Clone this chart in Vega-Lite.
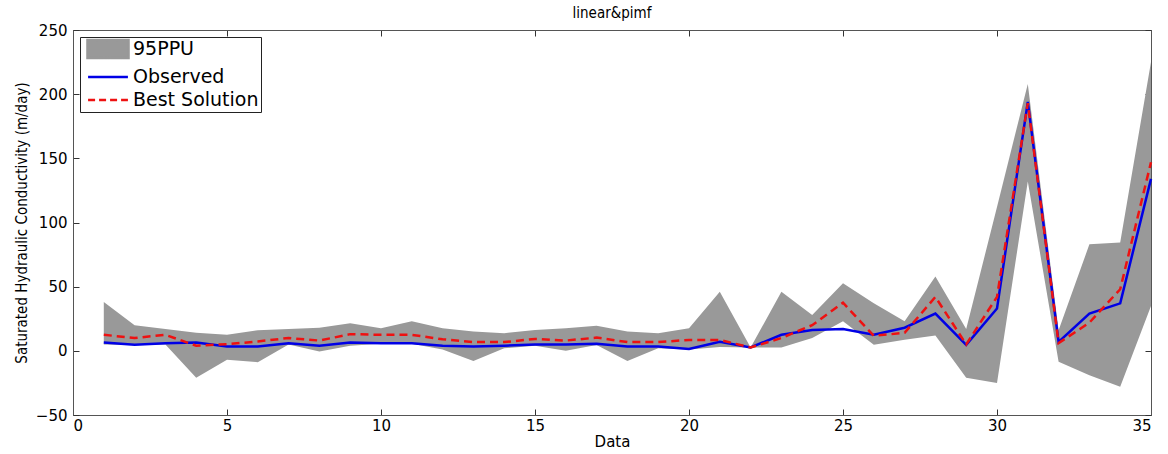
{
  "$schema": "https://vega.github.io/schema/vega-lite/v6.json",
  "width": 1078,
  "height": 385,
  "autosize": {"type": "none"},
  "padding": {"left": 73, "top": 30, "right": 17, "bottom": 39},
  "background": "white",
  "title": {
    "text": "linear&pimf",
    "font": "Liberation Sans Narrow, DejaVu Sans Condensed, sans-serif",
    "fontSize": 15,
    "fontWeight": "normal",
    "color": "black",
    "anchor": "middle",
    "offset": 2
  },
  "data": {
    "values": [
      {"x": 1, "lo": 5, "hi": 38, "obs": 6.5, "best": 12.5},
      {"x": 2, "lo": 4.5, "hi": 20, "obs": 4.7, "best": 10},
      {"x": 3, "lo": 5, "hi": 17, "obs": 6, "best": 12.5},
      {"x": 4, "lo": -21, "hi": 14, "obs": 6.5, "best": 4},
      {"x": 5, "lo": -7, "hi": 12.5, "obs": 3.4, "best": 5.2},
      {"x": 6, "lo": -8.8, "hi": 16, "obs": 3.4, "best": 7.3},
      {"x": 7, "lo": 5, "hi": 17, "obs": 6, "best": 10},
      {"x": 8, "lo": -0.5, "hi": 18, "obs": 4, "best": 8},
      {"x": 9, "lo": 4, "hi": 21.5, "obs": 6.5, "best": 13},
      {"x": 10, "lo": 5.5, "hi": 17.6, "obs": 6, "best": 12.5},
      {"x": 11, "lo": 5.5, "hi": 23, "obs": 6, "best": 12.5},
      {"x": 12, "lo": 1, "hi": 17.6, "obs": 4, "best": 9},
      {"x": 13, "lo": -8, "hi": 15, "obs": 3.4, "best": 6.8},
      {"x": 14, "lo": 2, "hi": 13.7, "obs": 4, "best": 6.8},
      {"x": 15, "lo": 4, "hi": 16.3, "obs": 5, "best": 9.3},
      {"x": 16, "lo": 0, "hi": 17.6, "obs": 5, "best": 8},
      {"x": 17, "lo": 4.5, "hi": 19.5, "obs": 5.5, "best": 10.3},
      {"x": 18, "lo": -8, "hi": 15, "obs": 3.4, "best": 6.8},
      {"x": 19, "lo": 2, "hi": 13.7, "obs": 3.4, "best": 6.8},
      {"x": 20, "lo": 1, "hi": 17.6, "obs": 1.5, "best": 8.5},
      {"x": 21, "lo": 3, "hi": 46, "obs": 7, "best": 8.5},
      {"x": 22, "lo": 2.6, "hi": 2.6, "obs": 2.6, "best": 2.6},
      {"x": 23, "lo": 2.6, "hi": 46, "obs": 12.5, "best": 10},
      {"x": 24, "lo": 10, "hi": 28, "obs": 16.3, "best": 20},
      {"x": 25, "lo": 23, "hi": 52.7, "obs": 17, "best": 37.5},
      {"x": 26, "lo": 4.7, "hi": 37, "obs": 12.5, "best": 11.7},
      {"x": 27, "lo": 8.6, "hi": 23, "obs": 18, "best": 14},
      {"x": 28, "lo": 12, "hi": 58, "obs": 29, "best": 42},
      {"x": 29, "lo": -21, "hi": 17, "obs": 4.7, "best": 5},
      {"x": 30, "lo": -25, "hi": 112, "obs": 33, "best": 42},
      {"x": 31, "lo": 132, "hi": 208, "obs": 194, "best": 193},
      {"x": 32, "lo": -8.5, "hi": 16, "obs": 7, "best": 6},
      {"x": 33, "lo": -19, "hi": 83, "obs": 29, "best": 22},
      {"x": 34, "lo": -28, "hi": 84.5, "obs": 37, "best": 48},
      {"x": 35, "lo": 35, "hi": 225, "obs": 134, "best": 147}
    ]
  },
  "config": {
    "view": {"stroke": "#555555", "strokeWidth": 1},
    "axis": {
      "grid": false,
      "domainColor": "#555555",
      "tickColor": "#333333",
      "tickSize": -6,
      "labelFont": "DejaVu Sans, sans-serif",
      "labelFontSize": 15,
      "labelColor": "black",
      "titleColor": "black",
      "titleFontWeight": "normal"
    }
  },
  "layer": [
    {
      "layer": [
        {
          "mark": {"type": "area", "opacity": 1, "interpolate": "linear"},
          "encoding": {
            "x": {
              "field": "x",
              "type": "quantitative",
              "scale": {"domain": [0, 35], "nice": false, "zero": false},
              "axis": {
                "orient": "bottom",
                "values": [0, 5, 10, 15, 20, 25, 30, 35],
                "labelPadding": 9,
                "title": "Data",
                "titleFont": "DejaVu Sans, sans-serif",
                "titleFontSize": 15,
                "titlePadding": 1
              }
            },
            "y": {
              "field": "lo",
              "type": "quantitative",
              "scale": {"domain": [-50, 250], "nice": false, "zero": false},
              "axis": {
                "orient": "left",
                "values": [-50, 0, 50, 100, 150, 200, 250],
                "labelPadding": 12,
                "title": "Saturated Hydraulic Conductivity (m/day)",
                "titleFont": "Liberation Sans Narrow, DejaVu Sans Condensed, sans-serif",
                "titleFontSize": 15,
                "titlePadding": 6
              }
            },
            "y2": {"field": "hi"},
            "color": {
              "datum": "95PPU",
              "type": "nominal",
              "scale": {
                "domain": ["95PPU", "Observed", "Best Solution"],
                "range": ["#999999", "#0000e6", "#ee1111"]
              },
              "legend": {
                "title": null,
                "orient": "top-left",
                "offset": 7,
                "padding": 2,
                "strokeColor": "#222222",
                "fillColor": "white",
                "labelFont": "DejaVu Sans, sans-serif",
                "labelFontSize": 19,
                "labelColor": "black",
                "labelOffset": 15,
                "rowPadding": 3,
                "symbolSize": 300,
                "symbolOffset": 16,
                "symbolStrokeWidth": 2.5,
                "encoding": {
                  "symbols": {
                    "shape": {"value": {"expr": "datum.value === '95PPU' ? 'M-2.37,-1.04H2.37V1.04H-2.37Z' : 'M-2.3,0H2.3'"}},
                    "fill": {"value": {"expr": "datum.value === '95PPU' ? '#999999' : 'transparent'"}},
                    "stroke": {"value": {"expr": "datum.value === '95PPU' ? '#999999' : (datum.value === 'Observed' ? '#0000e6' : '#ee1111')"}},
                    "strokeDash": {"value": {"expr": "datum.value === 'Best Solution' ? [7, 4] : [1, 0]"}},
                    "strokeWidth": {"value": 2.5},
                    "opacity": {"value": 1}
                  }
                }
              }
            }
          }
        },
        {
          "mark": {"type": "line", "strokeWidth": 2.5},
          "encoding": {
            "x": {"field": "x", "type": "quantitative"},
            "y": {"field": "obs", "type": "quantitative"},
            "color": {"datum": "Observed", "type": "nominal"}
          }
        },
        {
          "mark": {"type": "line", "strokeWidth": 2.5, "strokeDash": [8, 5]},
          "encoding": {
            "x": {"field": "x", "type": "quantitative"},
            "y": {"field": "best", "type": "quantitative"},
            "color": {"datum": "Best Solution", "type": "nominal"}
          }
        }
      ]
    },
    {
      "mark": {"type": "line", "opacity": 0},
      "encoding": {
        "x": {
          "field": "x",
          "type": "quantitative",
          "axis": {"orient": "top", "values": [0, 5, 10, 15, 20, 25, 30, 35], "labels": false, "title": null}
        },
        "y": {
          "field": "obs",
          "type": "quantitative",
          "axis": {"orient": "right", "values": [-50, 0, 50, 100, 150, 200, 250], "labels": false, "title": null}
        }
      }
    }
  ],
  "resolve": {"axis": {"x": "independent", "y": "independent"}}
}
